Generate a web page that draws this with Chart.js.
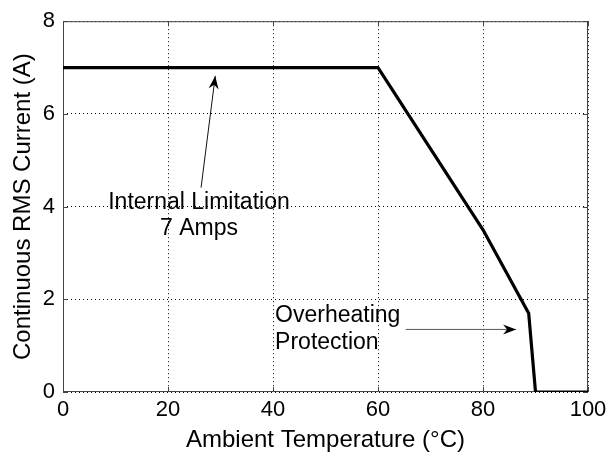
<!DOCTYPE html>
<html>
<head>
<meta charset="utf-8">
<script src="https://cdn.jsdelivr.net/npm/chart.js@4/dist/chart.umd.min.js"></script>
<style>
  html, body { margin: 0; padding: 0; background: #fff; }
  #wrap { width: 616px; height: 455px; }
</style>
</head>
<body>
<div id="wrap"><canvas id="chart" width="616" height="455"></canvas></div>
<script>
// derating curve
const temps = [0, 60, 80, 88.7, 90, 100];
const currents = [7, 7, 3.5, 1.7, 0, 0];

const xTitle = 'Ambient Temperature (\u00B0C)';
const yTitle = 'Continuous RMS Current (A)';

const FONT = '"Liberation Sans", Arial, sans-serif';

// text + arrows, placed in data units
const notes = [
  { lines: ['Internal Limitation', '7 Amps'], x: 25.9, y: [4.09, 3.53], align: 'center',
    arrow: { from: [26.3, 4.41], to: [29.0, 6.82], color: '#111' } },
  { lines: ['Overheating', 'Protection'], x: 40.4, y: [1.64, 1.06], align: 'left',
    arrow: { from: [65.3, 1.35], to: [86.3, 1.35], color: '#555' } },
];

function arrowHead(ctx, x1, y1, x2, y2) {
  const a = Math.atan2(y2 - y1, x2 - x1);
  const len = 13, half = 5, notch = 9;
  ctx.beginPath();
  ctx.moveTo(x2, y2);
  ctx.lineTo(x2 - len * Math.cos(a) + half * Math.sin(a), y2 - len * Math.sin(a) - half * Math.cos(a));
  ctx.lineTo(x2 - notch * Math.cos(a), y2 - notch * Math.sin(a));
  ctx.lineTo(x2 - len * Math.cos(a) - half * Math.sin(a), y2 - len * Math.sin(a) + half * Math.cos(a));
  ctx.closePath();
  ctx.fill();
}

const framePlugin = {
  id: 'frame',
  beforeDatasetsDraw(chart) {
    const { ctx, chartArea: a, scales: { x, y } } = chart;
    ctx.save();
    ctx.strokeStyle = '#444';
    ctx.lineWidth = 1;
    ctx.strokeRect(a.left + 0.5, a.top + 0.5, a.right - a.left - 1, a.bottom - a.top - 1);
    ctx.beginPath();
    x.ticks.forEach(t => {
      const px = Math.round(x.getPixelForValue(t.value)) + 0.5;
      ctx.moveTo(px, a.bottom); ctx.lineTo(px, a.bottom - 5);
      ctx.moveTo(px, a.top); ctx.lineTo(px, a.top + 5);
    });
    y.ticks.forEach(t => {
      const py = Math.round(y.getPixelForValue(t.value)) + 0.5;
      ctx.moveTo(a.left, py); ctx.lineTo(a.left + 5, py);
      ctx.moveTo(a.right, py); ctx.lineTo(a.right - 5, py);
    });
    ctx.stroke();
    ctx.restore();
  },
  afterDatasetsDraw(chart) {
    const { ctx, scales: { x, y } } = chart;
    ctx.save();
    ctx.font = '23px ' + FONT;
    ctx.fillStyle = '#000';
    ctx.textBaseline = 'middle';
    notes.forEach(n => {
      ctx.textAlign = n.align;
      n.lines.forEach((s, i) => ctx.fillText(s, x.getPixelForValue(n.x), y.getPixelForValue(n.y[i])));
      const x1 = x.getPixelForValue(n.arrow.from[0]), y1 = y.getPixelForValue(n.arrow.from[1]);
      const x2 = x.getPixelForValue(n.arrow.to[0]), y2 = y.getPixelForValue(n.arrow.to[1]);
      ctx.strokeStyle = n.arrow.color;
      ctx.lineWidth = 1;
      ctx.beginPath();
      ctx.moveTo(x1, y1);
      ctx.lineTo(x2, y2);
      ctx.stroke();
      ctx.fillStyle = '#000';
      arrowHead(ctx, x1, y1, x2, y2);
    });
    ctx.restore();
  }
};

new Chart(document.getElementById('chart'), {
  type: 'line',
  data: {
    datasets: [{
      data: temps.map((t, i) => ({ x: t, y: currents[i] })),
      borderColor: '#000',
      borderWidth: 3.2,
      pointRadius: 0,
      tension: 0,
      borderJoinStyle: 'round',
      fill: false,
    }],
  },
  options: {
    responsive: false,
    animation: false,
    layout: { padding: { top: 20, right: 28, left: 0, bottom: 0 } },
    plugins: { legend: { display: false }, tooltip: { enabled: false } },
    scales: {
      x: {
        type: 'linear',
        min: 0, max: 100,
        afterFit: s => { s.height = 63; },
        ticks: { stepSize: 20, color: '#000', padding: 5, maxRotation: 0, font: { family: FONT, size: 22 } },
        grid: { color: '#000', drawTicks: false, lineWidth: 1 },
        border: { display: false, dash: [1, 3] },
        title: { display: true, text: xTitle, color: '#000', padding: { top: 0, bottom: 0 }, font: { family: FONT, size: 24 } },
      },
      y: {
        min: 0, max: 8,
        afterFit: s => { s.width = 63; },
        ticks: { stepSize: 2, color: '#000', padding: 8, font: { family: FONT, size: 22 } },
        grid: { color: '#000', drawTicks: false, lineWidth: 1 },
        border: { display: false, dash: [1, 3] },
        title: { display: true, text: yTitle, color: '#000', padding: { top: 9, bottom: 0 }, font: { family: FONT, size: 24 } },
      },
    },
  },
  plugins: [framePlugin],
});
</script>
</body>
</html>
